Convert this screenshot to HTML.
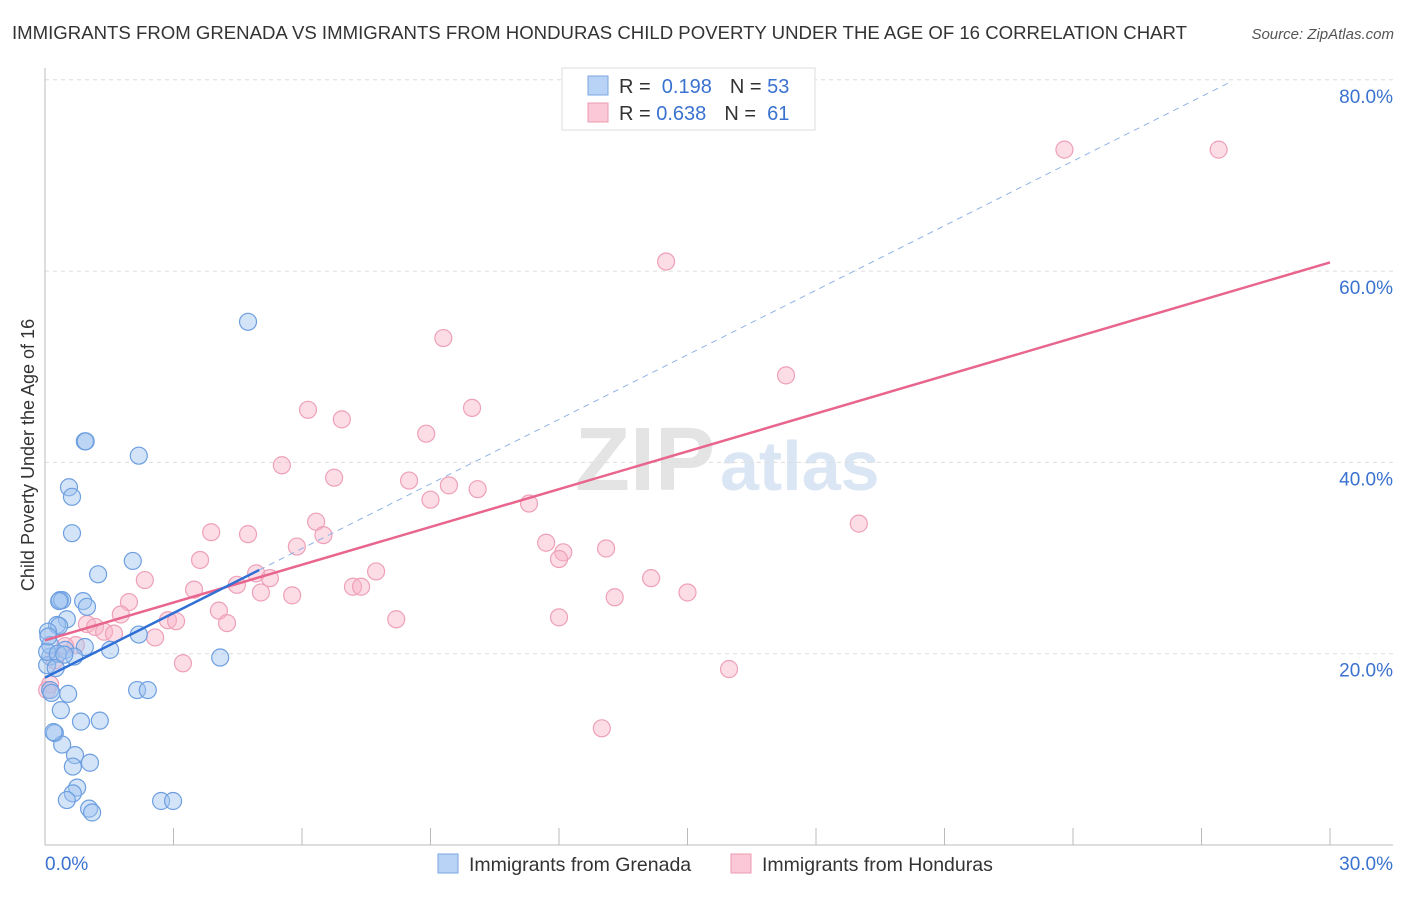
<!DOCTYPE html>
<html><head><meta charset="utf-8"><style>
body{margin:0;background:#fff;font-family:"Liberation Sans",sans-serif;}
svg text{font-family:"Liberation Sans",sans-serif;}
</style></head><body>
<svg id="chart" width="1406" height="892" xmlns="http://www.w3.org/2000/svg">
<text x="12" y="39" font-size="18.6" fill="#333">IMMIGRANTS FROM GRENADA VS IMMIGRANTS FROM HONDURAS CHILD POVERTY UNDER THE AGE OF 16 CORRELATION CHART</text>
<text x="1394" y="39" font-size="15" fill="#555" font-style="italic" text-anchor="end">Source: ZipAtlas.com</text>
<text transform="translate(34,455) rotate(-90)" font-size="18" fill="#333" text-anchor="middle">Child Poverty Under the Age of 16</text>
<g>
<text x="715" y="490" font-size="90" fill="#e4e4e4" font-family="Liberation Serif" text-anchor="end" font-weight="bold">ZIP</text>
<text x="720" y="490" font-size="70" fill="#dbe6f4" font-weight="bold">atlas</text>
</g>
<g id="grid"></g><g id="axes"></g><g id="points"></g><g id="lines"></g>
<g>
<rect x="562" y="68" width="253" height="62" fill="#fff" stroke="#ddd"/>
<rect x="588" y="76" width="20" height="19" fill="#b8d3f5" stroke="#7aa6e0"/>
<rect x="588" y="103" width="20" height="19" fill="#fac8d6" stroke="#ec9ab2"/>
<text x="619" y="93" font-size="20" fill="#333">R = <tspan fill="#3a72d0">&#160;0.198</tspan><tspan dx="18">N = </tspan><tspan fill="#3a72d0">53</tspan></text>
<text x="619" y="120" font-size="20" fill="#333">R = <tspan fill="#3a72d0">0.638</tspan><tspan dx="18">N = </tspan><tspan fill="#3a72d0">&#160;61</tspan></text>
</g>
<g>
<rect x="438" y="854" width="20" height="19" fill="#b8d3f5" stroke="#7aa6e0"/>
<text x="469" y="871" font-size="19.5" fill="#333">Immigrants from Grenada</text>
<rect x="731" y="854" width="20" height="19" fill="#fac8d6" stroke="#ec9ab2"/>
<text x="762" y="871" font-size="19.5" fill="#333">Immigrants from Honduras</text>
</g>
</svg>
<script>
const yTicks=[20,40,60,80];
const yTickLabels=["20.0%","40.0%","60.0%","80.0%"];
const xTicks=[0,3,6,9,12,15,18,21,24,27,30];
const xTickLabels=["0.0%","30.0%"];
const grenadaX=[4.74,0.93,0.95,2.19,0.56,0.63,0.63,2.05,1.24,0.35,0.4,0.33,0.89,0.98,0.51,0.28,0.33,0.07,2.19,1.52,0.93,0.47,0.68,0.12,4.09,0.05,2.15,2.40,0.54,0.12,0.37,0.84,1.28,0.23,0.40,0.70,0.65,1.05,0.75,0.65,0.51,1.03,1.10,2.71,2.99,0.12,0.05,0.2,0.08,0.3,0.15,0.25,0.45];
const grenadaY=[54.7,42.2,42.2,40.7,37.4,36.4,32.6,29.7,28.3,25.6,25.6,25.5,25.5,24.9,23.6,23.0,22.9,22.3,22.0,20.4,20.7,20.4,19.7,19.7,19.6,18.8,16.2,16.2,15.8,16.2,14.1,12.9,13.0,11.7,10.5,9.4,8.2,8.6,6.0,5.4,4.7,3.8,3.4,4.6,4.6,20.9,20.2,11.8,21.8,20.0,15.9,18.5,19.9];
const hondurasX=[23.8,27.4,14.5,9.3,17.3,6.14,9.97,6.93,8.9,5.53,6.75,8.5,9.43,10.1,9.0,11.3,6.33,19.0,6.5,3.88,4.74,11.7,5.88,13.1,12.1,12.0,3.62,7.73,4.93,2.33,5.25,14.15,4.48,7.19,7.38,3.48,5.04,5.77,15.0,13.3,1.96,1.77,4.06,12.0,8.2,2.87,3.06,0.98,4.25,1.17,1.38,1.61,2.57,0.72,0.47,3.22,15.97,13.0,0.12,0.23,0.05];
const hondurasY=[72.7,72.7,61.0,53.0,49.1,45.5,45.7,44.5,43.0,39.7,38.4,38.1,37.6,37.2,36.1,35.7,33.8,33.6,32.4,32.7,32.5,31.6,31.2,31.0,30.6,29.9,29.8,28.6,28.4,27.7,27.9,27.9,27.2,27.0,27.0,26.7,26.4,26.1,26.4,25.9,25.4,24.1,24.5,23.8,23.6,23.5,23.4,23.1,23.2,22.8,22.3,22.1,21.7,20.9,20.8,19.0,18.4,12.2,16.8,19.3,16.2];
const grenadaTrend=[17.5,2.25];
const hondurasTrend=[21.4,1.317];
const NS='http://www.w3.org/2000/svg';
const xs=v=>45+v/30*1285;
const ys=v=>845-v/20*191.3;
function mk(tag,attrs,parent){const e=document.createElementNS(NS,tag);for(const k in attrs)e.setAttribute(k,attrs[k]);document.getElementById(parent).appendChild(e);return e;}
yTicks.forEach((t,i)=>{
 const g=mk('line',{x1:45,x2:1393,y1:ys(t),y2:ys(t),stroke:'#ddd','stroke-dasharray':'4,4'},'grid');
 
 
 const l=mk('text',{x:1393,y:ys(t)+23,'font-size':19,fill:'#3a72d0','text-anchor':'end'},'axes');
 l.textContent=yTickLabels[i];
 
 
});
const ax=mk('line',{x1:45,x2:45,y1:68,y2:845,stroke:'#bbb'},'axes');


const bx=mk('line',{x1:45,x2:1393,y1:845,y2:845,stroke:'#bbb'},'axes');


xTicks.forEach(t=>{
 const k=mk('line',{x1:xs(t),x2:xs(t),y1:828,y2:845,stroke:'#bbb'},'axes');
 
 
});
const xl0=mk('text',{x:45,y:870,'font-size':19,fill:'#3a72d0'},'axes');xl0.textContent=xTickLabels[0];


const xl1=mk('text',{x:1393,y:870,'font-size':19,fill:'#3a72d0','text-anchor':'end'},'axes');xl1.textContent=xTickLabels[1];


hondurasX.forEach((v,i)=>{
 const c=mk('circle',{cx:xs(v),cy:ys(hondurasY[i]),r:8.5,fill:'rgba(248,180,200,0.45)',stroke:'#eea0b8','stroke-width':1.2},'points');
 
 
});
grenadaX.forEach((v,i)=>{
 const c=mk('circle',{cx:xs(v),cy:ys(grenadaY[i]),r:8.5,fill:'rgba(160,196,240,0.45)',stroke:'#6d9fe0','stroke-width':1.2},'points');
 
 
});
const d=mk('line',{x1:xs(5),y1:ys(grenadaTrend[0]+grenadaTrend[1]*5),x2:xs(27.7),y2:ys(grenadaTrend[0]+grenadaTrend[1]*27.7),stroke:'#8fb3e6','stroke-width':1,'stroke-dasharray':'6,5'},'lines');


const p=mk('line',{x1:xs(0),y1:ys(hondurasTrend[0]),x2:xs(30),y2:ys(hondurasTrend[0]+hondurasTrend[1]*30),stroke:'#e8668e','stroke-width':2.5},'lines');


const b=mk('line',{x1:xs(0),y1:ys(grenadaTrend[0]),x2:xs(5),y2:ys(grenadaTrend[0]+grenadaTrend[1]*5),stroke:'#2f6fd6','stroke-width':2.5},'lines');


</script>
</body></html>
